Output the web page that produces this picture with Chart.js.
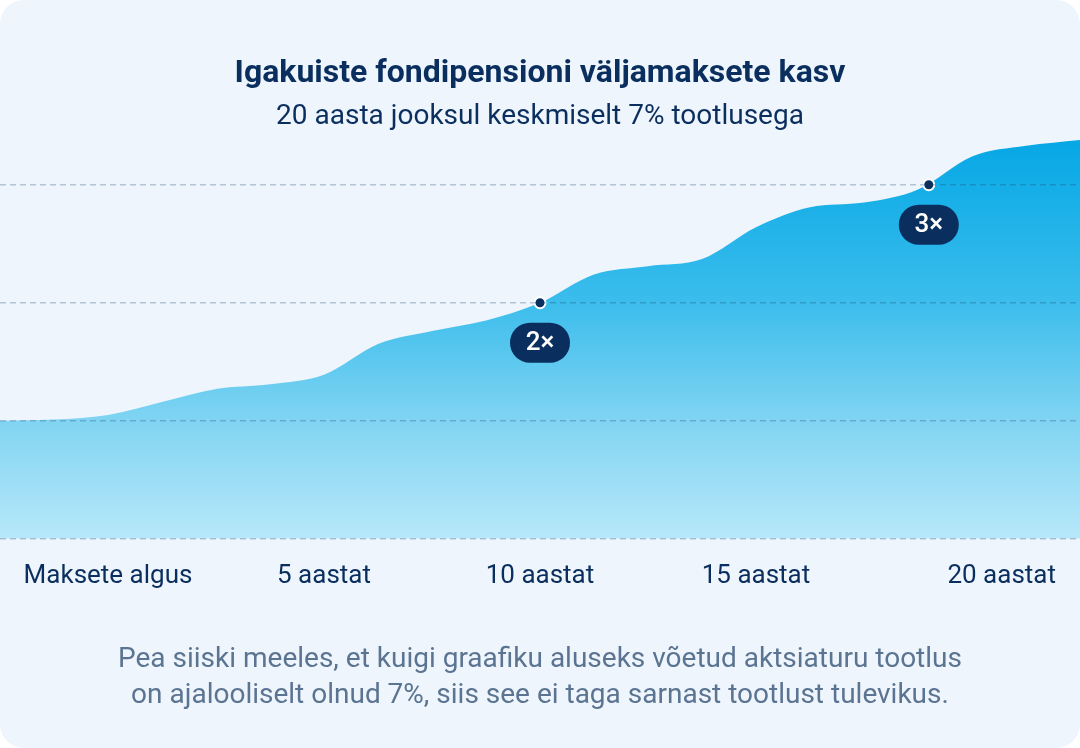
<!DOCTYPE html>
<html>
<head>
<meta charset="utf-8">
<script src="https://cdn.jsdelivr.net/npm/chart.js@4/dist/chart.umd.min.js"></script>
<style>
  html, body { margin: 0; padding: 0; background: #ffffff; }
  #card {
    position: relative; width: 1080px; height: 748px;
    background: #EEF5FC; border-radius: 24px; overflow: hidden;
    font-family: Roboto, "Noto Sans", sans-serif;
  }
  #chartBox { position: absolute; left: 0; top: 0; width: 1080px; height: 748px; }
  #note {
    position: absolute; left: 0; top: 640px; width: 1080px;
    text-align: center; color: #5B7491; font-size: 28px; line-height: 36px;
    font-family: Roboto, "Noto Sans", sans-serif;
  }
</style>
</head>
<body>
<div id="card">
  <div id="chartBox"><canvas id="c" width="1080" height="748"></canvas></div>
  <div id="note">Pea siiski meeles, et kuigi graafiku aluseks võetud aktsiaturu tootlus<br>on ajalooliselt olnud 7%, siis see ei taga sarnast tootlust tulevikus.</div>
</div>
<script>
// ---- data ----
const years = [0,1,2,3,4,5,6,7,8,9,10,11,12,13,14,15,16,17,18,19,20];
const payoutMultiple = [1.00,1.01,1.05,1.16,1.27,1.31,1.39,1.65,1.76,1.85,2.00,2.24,2.31,2.37,2.64,2.81,2.85,2.96,3.24,3.33,3.38];
const milestoneYears = [10, 17.2];
const milestoneValues = [2, 3];
const milestoneLabels = ['2×', '3×'];
const xTickLabels = ['Maksete algus', '5 aastat', '10 aastat', '15 aastat', '20 aastat'];
const gridValues = [0, 1, 2, 3];
const titleText = 'Igakuiste fondipensioni väljamaksete kasv';
const subtitleText = '20 aasta jooksul keskmiselt 7% tootlusega';

// layout-only positions of the x labels (in x-axis units)
const xLabelPositions = [2, 6, 10, 14, 18.55];

const NAVY = '#0A2F5E';

const badgePlugin = {
  id: 'badges',
  afterDatasetsDraw(chart) {
    const meta = chart.getDatasetMeta(1);
    const ctx = chart.ctx;
    ctx.save();
    meta.data.forEach((pt, i) => {
      const cx = pt.x, cy = pt.y + 40;
      const w = 60, h = 40, r = 20;
      ctx.beginPath();
      ctx.moveTo(cx - w/2 + r, cy - h/2);
      ctx.lineTo(cx + w/2 - r, cy - h/2);
      ctx.arc(cx + w/2 - r, cy, r, -Math.PI/2, Math.PI/2);
      ctx.lineTo(cx - w/2 + r, cy + h/2);
      ctx.arc(cx - w/2 + r, cy, r, Math.PI/2, Math.PI*1.5);
      ctx.closePath();
      ctx.fillStyle = NAVY;
      ctx.fill();
      ctx.fillStyle = '#ffffff';
      ctx.font = '500 26px Roboto, "Noto Sans", sans-serif';
      ctx.textAlign = 'center';
      ctx.textBaseline = 'middle';
      ctx.fillText(milestoneLabels[i], cx, cy + 1);
    });
    ctx.restore();
  }
};

new Chart(document.getElementById('c'), {
  type: 'line',
  data: {
    datasets: [
      {
        data: years.map((y, i) => ({ x: y, y: payoutMultiple[i] })),
        cubicInterpolationMode: 'monotone',
        borderWidth: 0,
        pointRadius: 0,
        fill: 'origin',
        backgroundColor(ctx) {
          const ca = ctx.chart.chartArea;
          if (!ca) return '#3BBDEC';
          const g = ctx.chart.ctx.createLinearGradient(0, 130, 0, 539);
          g.addColorStop(0, '#02A6E5');
          g.addColorStop(0.42, '#3BBDEC');
          g.addColorStop(0.71, '#80D4F2');
          g.addColorStop(1, '#B7E8F9');
          return g;
        },
        order: 2
      },
      {
        data: milestoneYears.map((y, i) => ({ x: y, y: milestoneValues[i] })),
        showLine: false,
        pointRadius: 5.5,
        pointBackgroundColor: NAVY,
        pointBorderColor: '#ffffff',
        pointBorderWidth: 2,
        order: 1
      }
    ]
  },
  options: {
    responsive: false,
    animation: false,
    events: [],
    layout: { autoPadding: false, padding: { left: 0, right: 0, top: 0, bottom: 134 } },
    plugins: {
      legend: { display: false },
      tooltip: { enabled: false },
      title: {
        display: true, text: titleText, color: NAVY,
        font: { family: 'Roboto', size: 32, weight: 'bold' },
        padding: { top: 55, bottom: 4 }
      },
      subtitle: {
        display: true, text: subtitleText, color: NAVY,
        font: { family: 'Roboto', size: 28, weight: 'normal' },
        padding: { top: 3, bottom: 0 }
      }
    },
    scales: {
      x: {
        type: 'linear', min: 0, max: 20,
        grid: { display: false, drawTicks: false },
        border: { display: false },
        afterBuildTicks(axis) { axis.ticks = xLabelPositions.map(v => ({ value: v })); },
        ticks: {
          autoSkip: false, maxRotation: 0, padding: 22,
          color: NAVY, font: { family: 'Roboto', size: 26 },
          callback: (v, i) => xTickLabels[i]
        }
      },
      y: {
        min: 0, max: 3.43,
        afterBuildTicks(axis) { axis.ticks = gridValues.map(v => ({ value: v })); },
        grid: { color: 'rgba(30,70,120,0.28)', lineWidth: 1.5, drawTicks: false, z: 1 },
        border: { display: false, dash: [6, 4] },
        ticks: { display: false }
      }
    }
  },
  plugins: [badgePlugin]
});
</script>
</body>
</html>
